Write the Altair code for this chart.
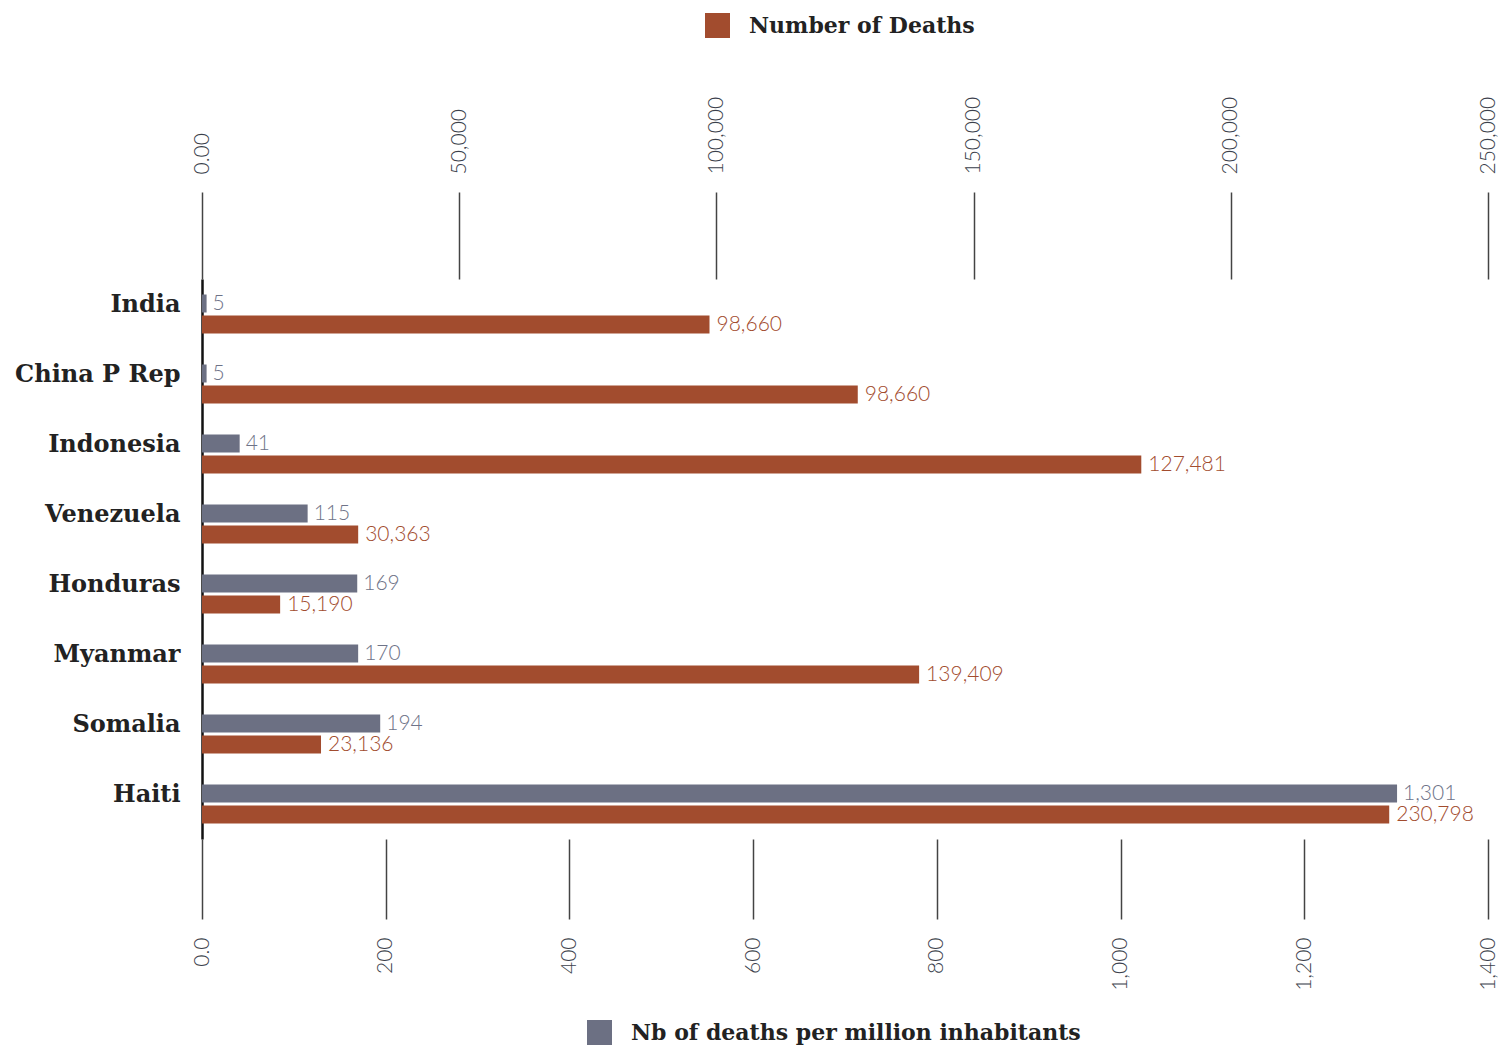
import altair as alt
import pandas as pd

countries = ["India", "China P Rep", "Indonesia", "Venezuela", "Honduras", "Myanmar", "Somalia", "Haiti"]
deaths = [98660, 127481, 182600, 30363, 15190, 139409, 23136, 230798]
deaths_labels = ["98,660", "98,660", "127,481", "30,363", "15,190", "139,409", "23,136", "230,798"]
per_million = [5, 5, 41, 115, 169, 170, 194, 1301]
per_million_labels = ["5", "5", "41", "115", "169", "170", "194", "1,301"]
deaths_ticks = [0, 50000, 100000, 150000, 200000, 250000]
pm_ticks = [0, 200, 400, 600, 800, 1000, 1200, 1400]

ORANGE = "#A24C2E"
GREY = "#6C7083"

df = pd.DataFrame({
    "country": countries,
    "deaths": deaths,
    "deaths_label": deaths_labels,
    "pm": per_million,
    "pm_label": per_million_labels,
})

W, H = 1286, 560

y_enc = alt.Y(
    "country:N", sort=countries,
    scale=alt.Scale(paddingInner=0, paddingOuter=0),
    axis=alt.Axis(title=None, labelFont="DejaVu Serif", labelFontSize=24, labelFontWeight="bold",
                  labelColor="#222222", ticks=False, domainColor="#111111", domainWidth=2.5,
                  labelPadding=22, labelOffset=-9, grid=False),
)

top_axis = alt.Axis(
    orient="top", values=deaths_ticks, title=None, grid=False, domain=False,
    labelExpr="datum.value == 0 ? '0.00' : format(datum.value, ',')",
    labelAngle=270, labelFont="Lato", labelFontSize=21, labelFontWeight=300, labelColor="#3b3f4c",
    labelPadding=18, tickSize=87, tickColor="#444444", tickWidth=1.5,
    labelFlush=False, labelOverlap=False,
)
bottom_axis = alt.Axis(
    orient="bottom", values=pm_ticks, title=None, grid=False, domain=False,
    labelExpr="datum.value == 0 ? '0.0' : format(datum.value, ',')",
    labelAngle=270, labelFont="Lato", labelFontSize=21, labelFontWeight=300, labelColor="#3b3f4c",
    labelPadding=18, tickSize=80, tickColor="#444444", tickWidth=1.5,
    labelFlush=False, labelOverlap=False,
)

base = alt.Chart(df)

pm_scale = alt.Scale(domain=[0, 1400], nice=False, zero=True)
d_scale = alt.Scale(domain=[0, 250000], nice=False, zero=True)

legend_common = dict(orient="none", title=None, symbolType="square", symbolSize=625,
                     symbolStrokeWidth=0, labelFont="DejaVu Serif", labelFontSize=22,
                     labelFontWeight="bold", labelColor="#222222", labelOffset=19, labelLimit=0)

grey_bars = base.transform_calculate(series="'Nb of deaths per million inhabitants'").mark_bar(
    height=18, yOffset=-10.5
).encode(
    x=alt.X("pm:Q", scale=pm_scale, axis=bottom_axis),
    y=y_enc,
    color=alt.Color("series:N", scale=alt.Scale(range=[GREY]),
                    legend=alt.Legend(legendX=385, legendY=741, **legend_common)),
)
grey_text = base.mark_text(align="left", baseline="middle", dx=6, dy=-10.5, font="Lato",
                           fontSize=21, fontWeight=300, color="#6E7388").encode(
    x=alt.X("pm:Q", scale=pm_scale, axis=bottom_axis),
    y=y_enc,
    text="pm_label:N",
)

orange_bars = base.transform_calculate(series="'Number of Deaths'").mark_bar(
    height=18, yOffset=10.5
).encode(
    x=alt.X("deaths:Q", scale=d_scale, axis=top_axis),
    y=y_enc,
    color=alt.Color("series:N", scale=alt.Scale(range=[ORANGE]),
                    legend=alt.Legend(legendX=503, legendY=-266, **legend_common)),
)
orange_text = base.mark_text(align="left", baseline="middle", dx=7, dy=10.5, font="Lato",
                             fontSize=21, fontWeight=300, color="#A24C2E").encode(
    x=alt.X("deaths:Q", scale=d_scale, axis=top_axis),
    y=y_enc,
    text="deaths_label:N",
)

grey_layer = alt.layer(grey_bars, grey_text)
orange_layer = alt.layer(orange_bars, orange_text)

chart = alt.layer(grey_layer, orange_layer).resolve_scale(
    x="independent", color="independent"
).resolve_legend(color="independent").properties(
    width=W, height=H,
    autosize=alt.AutoSizeParams(type="none"),
    padding={"left": 194, "top": 271, "right": 10, "bottom": 211},
    background="white",
).configure_view(stroke=None)

chart.save("out.html", embed_options={"renderer": "svg", "actions": False})
